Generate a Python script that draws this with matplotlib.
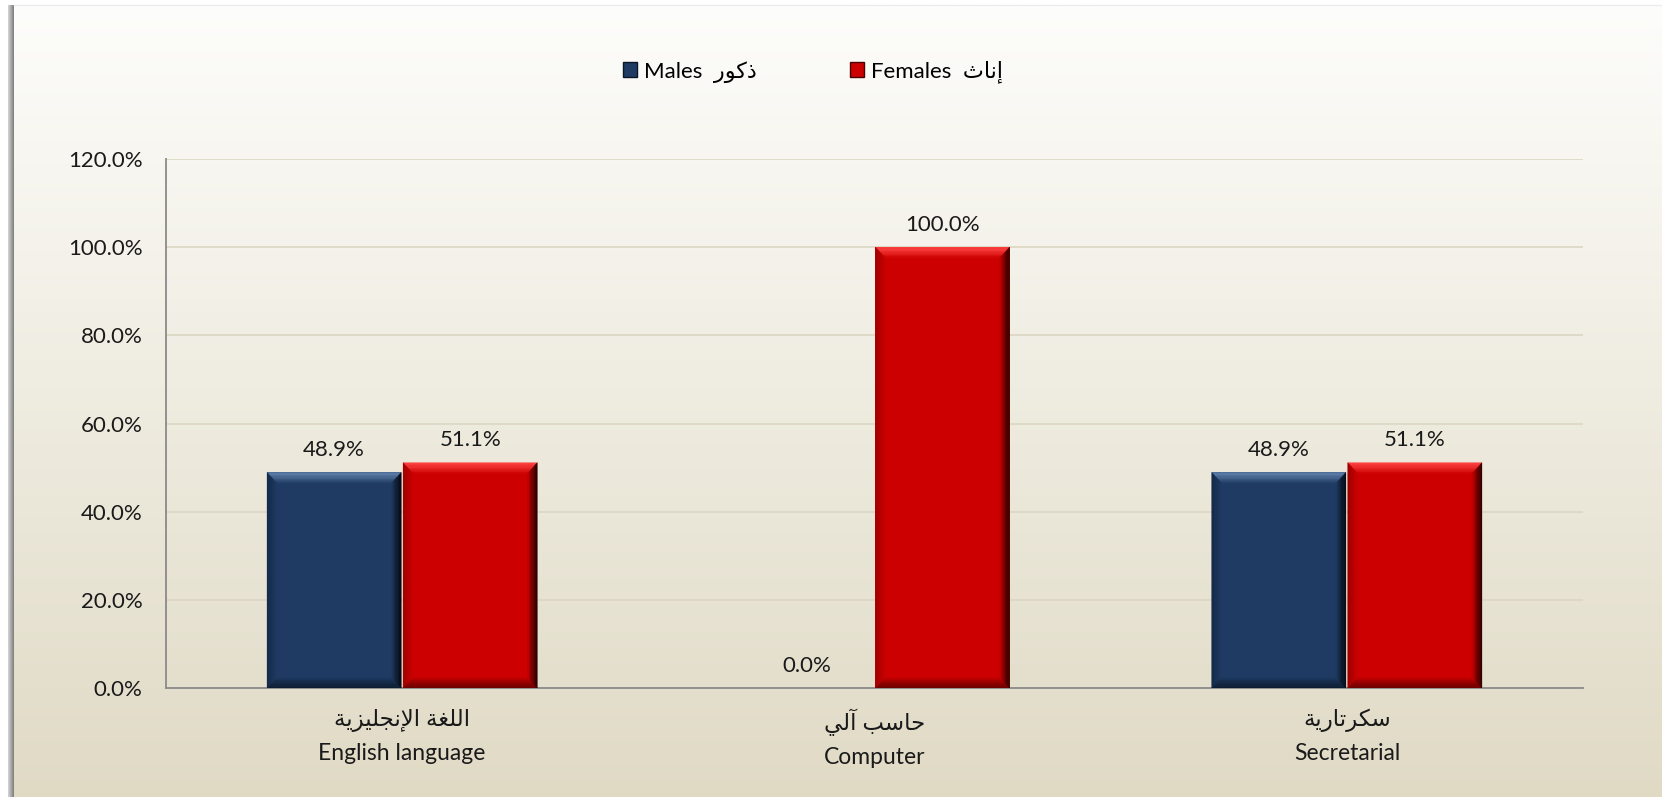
import numpy as np
import matplotlib
matplotlib.use("Agg")
import matplotlib.pyplot as plt
from matplotlib.colors import to_rgb
from matplotlib.patches import Polygon, Rectangle

plt.rcParams['font.family'] = ['Lato', 'DejaVu Sans']

# data
categories_ar = ["اللغة الإنجليزية", "حاسب آلي", "سكرتارية"]
categories_en = ["English language", "Computer", "Secretarial"]
males = [0.489, 0.0, 0.489]
females = [0.511, 1.0, 0.511]
series_en = ["Males", "Females"]
series_ar = ["ذكور", "إناث"]
yticks = [0.0, 0.2, 0.4, 0.6, 0.8, 1.0, 1.2]

# arabic shaping by hand (matplotlib has no shaping): (isolated, final, initial, medial)
FORMS = {
    'ا': (0xFE8D, 0xFE8E), 'إ': (0xFE87, 0xFE88), 'آ': (0xFE81, 0xFE82),
    'ب': (0xFE8F, 0xFE90, 0xFE91, 0xFE92), 'ة': (0xFE93, 0xFE94),
    'ت': (0xFE95, 0xFE96, 0xFE97, 0xFE98), 'ث': (0xFE99, 0xFE9A, 0xFE9B, 0xFE9C),
    'ج': (0xFE9D, 0xFE9E, 0xFE9F, 0xFEA0), 'ح': (0xFEA1, 0xFEA2, 0xFEA3, 0xFEA4),
    'ذ': (0xFEAB, 0xFEAC), 'ر': (0xFEAD, 0xFEAE), 'ز': (0xFEAF, 0xFEB0),
    'س': (0xFEB1, 0xFEB2, 0xFEB3, 0xFEB4), 'غ': (0xFECD, 0xFECE, 0xFECF, 0xFED0),
    'ك': (0xFED9, 0xFEDA, 0xFEDB, 0xFEDC), 'ل': (0xFEDD, 0xFEDE, 0xFEDF, 0xFEE0),
    'ن': (0xFEE5, 0xFEE6, 0xFEE7, 0xFEE8), 'و': (0xFEED, 0xFEEE),
    'ي': (0xFEF1, 0xFEF2, 0xFEF3, 0xFEF4),
}
LAM_ALEF = {'ا': 0xFEFB, 'أ': 0xFEF7, 'إ': 0xFEF9, 'آ': 0xFEF5}


def shape_ar(text):
    chars = []
    i = 0
    while i < len(text):
        c = text[i]
        if c == 'ل' and i + 1 < len(text) and text[i + 1] in LAM_ALEF:
            base = LAM_ALEF[text[i + 1]]
            chars.append((base, base + 1))
            i += 2
            continue
        chars.append(FORMS.get(c, c))
        i += 1
    out = []
    for k, f in enumerate(chars):
        if isinstance(f, str):
            out.append(f)
            continue
        prev = chars[k - 1] if k > 0 else None
        nxt = chars[k + 1] if k + 1 < len(chars) else None
        jp = isinstance(prev, tuple) and len(prev) == 4
        jn = len(f) == 4 and isinstance(nxt, tuple)
        idx = {(False, False): 0, (True, False): 1, (False, True): 2, (True, True): 3}[(jp, jn)]
        out.append(chr(f[idx]))
    return ''.join(reversed(out))


W, H = 1662, 797
fig = plt.figure(figsize=(W / 100, H / 100), dpi=100)
fig.patch.set_facecolor('white')

# background panel with vertical gradient + left shadow
bg = fig.add_axes([0, 0, 1, 1], zorder=-10)
bg.set_xlim(0, W)
bg.set_ylim(H, 0)
bg.axis('off')
top_c = np.array([253, 253, 251]) / 255
bot_c = np.array([224, 218, 197]) / 255
t = np.linspace(0, 1, 256)[:, None]
grad = top_c * (1 - t[..., None]) + bot_c * t[..., None]
bg.imshow(grad, extent=[14, W, H, 5], aspect='auto', interpolation='bilinear')
sh = np.linspace(0, 1, 32)[None, :]
shade = np.array([215, 215, 215]) / 255 * (1 - sh[..., None]) + np.array([125, 125, 125]) / 255 * sh[..., None]
bg.imshow(shade, extent=[8, 14, H, 5], aspect='auto', interpolation='bilinear')
bg.plot([14, W], [4.5, 4.5], color='#ececec', lw=1)

# main axes
ax = fig.add_axes([166 / W, (H - 688) / H, (1583 - 166) / W, (688 - 159) / H])
ax.patch.set_alpha(0)
ax.set_xlim(-0.5, 2.5)
ax.set_ylim(0, 1.2)
ax.set_yticks(yticks)
ax.set_yticklabels([f"{v:.1%}" for v in yticks], fontsize=16, color='#1a1a1a')
ax.yaxis.grid(True, color='#dcd7c3', lw=1.2)
ax.set_axisbelow(True)
for s in ['top', 'right']:
    ax.spines[s].set_visible(False)
ax.spines['left'].set_color('#8a8a8a')
ax.spines['bottom'].set_color('#8a8a8a')
ax.spines['left'].set_linewidth(1.3)
ax.spines['bottom'].set_linewidth(1.3)
ax.tick_params(axis='both', length=0)
ax.tick_params(axis='y', pad=17)
ax.tick_params(axis='x', pad=15)

x = np.arange(len(categories_en))
ax.set_xticks(x)
ax.set_xticklabels([shape_ar(a) + "\n" + e for a, e in zip(categories_ar, categories_en)],
                   fontsize=16.5, color='#1a1a1a', linespacing=1.65)

bw = 0.284
off = 0.144
male_colors = {'face': '#1f3b63', 'top': '#6282ad', 'left': '#142a4a', 'right': '#050a14', 'bottom': '#0e1c33'}
female_colors = {'face': '#cc0000', 'top': '#ff4545', 'left': '#a00000', 'right': '#2a0000', 'bottom': '#6a0000'}

# pixel size of the bevel in data units
p0 = ax.transData.transform((0, 0))
p1 = ax.transData.transform((1, 1))
ux = 10 / (p1[0] - p0[0])
uy = 11 / (p1[1] - p0[1])
steps = 8


def mix(c1, c2, a):
    c1, c2 = np.array(to_rgb(c1)), np.array(to_rgb(c2))
    return tuple(c1 * (1 - a) + c2 * a)


def bevel_bars(xs, vals, cols):
    bars = ax.bar(xs, vals, width=bw, color=cols['face'], zorder=3)
    for b in bars:
        x0, y0 = b.get_x(), b.get_y()
        x1, y1 = x0 + b.get_width(), y0 + b.get_height()
        if b.get_height() <= 0:
            continue
        dx, dy = ux, min(uy, (y1 - y0) / 2)
        for k in range(steps):
            a, c = k / steps, (k + 1) / steps
            # outer (a) and inner (c) inset rectangles
            oa = (x0 + a * dx, y0 + a * dy, x1 - a * dx, y1 - a * dy)
            ic = (x0 + c * dx, y0 + c * dy, x1 - c * dx, y1 - c * dy)
            f = (k + 0.5) / steps
            sides = {
                'top': [(oa[0], oa[3]), (oa[2], oa[3]), (ic[2], ic[3]), (ic[0], ic[3])],
                'bottom': [(oa[0], oa[1]), (oa[2], oa[1]), (ic[2], ic[1]), (ic[0], ic[1])],
                'left': [(oa[0], oa[1]), (ic[0], ic[1]), (ic[0], ic[3]), (oa[0], oa[3])],
                'right': [(oa[2], oa[1]), (oa[2], oa[3]), (ic[2], ic[3]), (ic[2], ic[1])],
            }
            for name, pts in sides.items():
                ax.add_patch(Polygon(pts, color=mix(cols[name], cols['face'], f ** 1.3),
                                     zorder=4, lw=0.3))
    for xi, v in zip(xs, vals):
        ax.annotate(f"{v:.1%}", (xi, v), xytext=(0, 9), textcoords='offset points',
                    ha='center', va='bottom', fontsize=16, color='#1a1a1a')


bevel_bars(x - off, males, male_colors)
bevel_bars(x + off, females, female_colors)

# legend
handles = [Rectangle((0, 0), 1, 1, facecolor=male_colors['face'], edgecolor='#0b1526'),
           Rectangle((0, 0), 1, 1, facecolor=female_colors['face'], edgecolor='#4a0000')]
labels = [f"{e}  {shape_ar(a)}" for e, a in zip(series_en, series_ar)]
fig.legend(handles, labels, loc='center', bbox_to_anchor=(813 / W, (H - 72) / H), ncol=2,
           frameon=False, fontsize=16, handlelength=0.65, handleheight=0.65,
           handletextpad=0.3, columnspacing=4.2)

fig.savefig("out.png", dpi=100)
